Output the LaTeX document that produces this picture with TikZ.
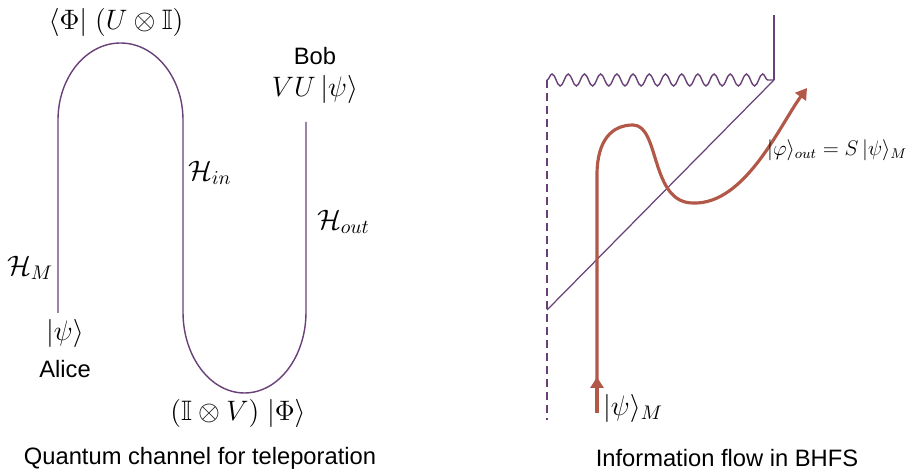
\RequirePackage{fix-cm}
\documentclass[tikz,border=0pt]{standalone}
\usepackage{amssymb}
\usepackage{fontspec}
\setsansfont{Liberation Sans}
\usetikzlibrary{arrows.meta,decorations.pathmorphing}
\definecolor{wirecol}{RGB}{105,65,120}
\definecolor{flowcol}{RGB}{178,88,72}

\begin{document}
\begin{tikzpicture}[>=Stealth,
 wire/.style={draw=wirecol,line width=0.8pt},
 flow/.style={draw=flowcol,line width=1.8pt},
 flowtip/.style={-{Triangle[length=2.2mm,width=2.6mm]}},
 word/.style={font=\fontsize{13.5}{15}\selectfont\sffamily,inner sep=1pt},
 lbl/.style={font=\fontsize{16}{19}\selectfont,inner sep=1pt},
 small/.style={font=\fontsize{12}{14}\selectfont}]
\useasboundingbox (0,0) rectangle (18.2,9.44);
% left: teleportation channel
\coordinate (alice) at (1.16,3.18);
\coordinate (bob) at (6.12,7.0);
\draw[wire] (alice) -- (1.16,7.04) arc[start angle=180,end angle=0,x radius=1.25cm,y radius=1.54cm]
 -- (3.66,3.2) arc[start angle=180,end angle=360,x radius=1.23cm,y radius=1.62cm] -- (bob);
\node[lbl] (bra) at (2.32,9.0) {$\langle\Phi|\;(U\otimes\mathbb{I})$};
\node[word] (bobname) at (6.3,8.32) {Bob};
\node[lbl] (bobstate) at (6.3,7.66) {$VU\,|\psi\rangle$};
\node[lbl,anchor=west] (hin) at (3.72,5.98) {$\mathcal{H}_{in}$};
\node[lbl,anchor=west] (hout) at (6.3,5.0) {$\mathcal{H}_{out}$};
\node[lbl] (hm) at (0.6,4.08) {$\mathcal{H}_M$};
\node[lbl] (alicestate) at (1.3,2.78) {$|\psi\rangle$};
\node[word] (alicename) at (1.3,2.06) {Alice};
\node[lbl] (ket) at (4.76,1.18) {$(\mathbb{I}\otimes V)\;|\Phi\rangle$};
\node[word] (capl) at (4.0,0.28) {Quantum channel for teleporation};
% right: information flow
\coordinate (top) at (15.48,9.14);
\coordinate (corner) at (15.48,7.84);
\coordinate (wl) at (10.94,7.84);
\coordinate (dl) at (10.94,1.04);
\coordinate (dg) at (10.94,3.24);
\draw[wire] (top) -- (corner);
\draw[wire,decorate,decoration={snake,amplitude=1.2mm,segment length=3.24mm}] (wl) -- (corner);
\draw[wire,dash pattern=on 1.6mm off 1mm] (wl) -- (dl);
\draw[wire,line width=0.7pt] (corner) -- (dg);
\coordinate (psiin) at (11.94,1.18);
\coordinate (mid) at (11.94,1.9);
\coordinate (rise) at (11.94,5.94);
\coordinate (peak) at (12.66,6.94);
\coordinate (dip) at (13.86,5.38);
\coordinate (psiout) at (16.14,7.68);
\draw[flow,flowtip] (psiin) -- (rise) .. controls (11.94,6.64) and (12.24,6.94) .. (peak)
 .. controls (13.2,6.94) and (13.0,5.38) .. (dip) .. controls (14.9,5.34) and (15.6,6.94) .. (psiout);
\draw[flow,flowtip] (psiin) -- (mid);
\node[lbl,anchor=west] (psim) at (12.02,1.28) {$|\psi\rangle_M$};
\node[small,anchor=west] (eq) at (15.22,6.44) {$|\varphi\rangle_{out}=S\,|\psi\rangle_M$};
\node[word] (capr) at (14.54,0.28) {Information flow in BHFS};
\end{tikzpicture}
\end{document}
